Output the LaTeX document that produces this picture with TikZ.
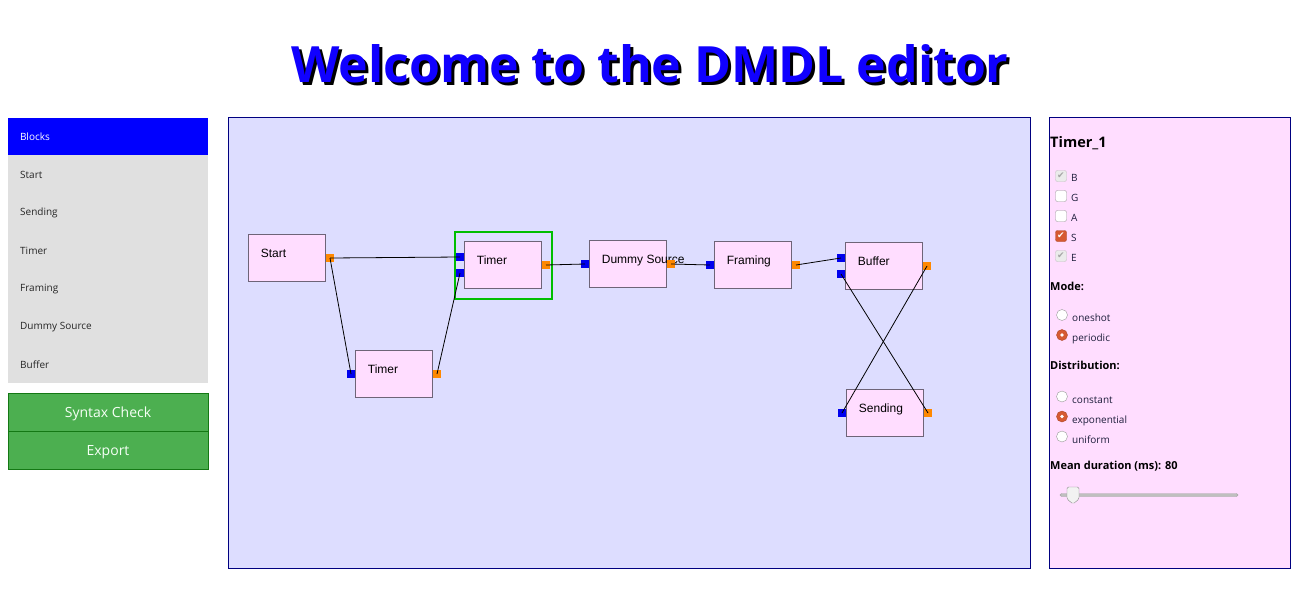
\documentclass[tikz,border=0pt]{standalone}
\usepackage{fontspec}
\setmainfont{Open Sans}
\newfontfamily\blockfont{Liberation Sans}
\newfontfamily\symfont{DejaVu Sans}

\definecolor{titleblue}{RGB}{16,0,255}
\definecolor{canvasbg}{RGB}{221,221,255}
\definecolor{pinkbg}{RGB}{255,221,255}
\definecolor{frameblue}{RGB}{0,0,128}
\definecolor{menugrey}{RGB}{224,224,224}
\definecolor{btngreen}{RGB}{76,175,80}
\definecolor{btnedge}{RGB}{20,120,20}
\definecolor{portblue}{RGB}{0,0,238}
\definecolor{portorange}{RGB}{255,136,0}
\definecolor{selgreen}{RGB}{0,190,0}
\definecolor{blockedge}{RGB}{110,100,120}
\definecolor{tickorange}{RGB}{214,90,50}
\definecolor{paneltext}{RGB}{30,30,60}

\begin{document}
\begin{tikzpicture}[
  x=1pt, y=-1pt,
  titletext/.style={anchor=base, text=titleblue, font=\fontsize{50}{56}\selectfont\bfseries, inner sep=0pt},
  titleshadow/.style={titletext, text=black},
  menubar/.style={fill=blue, text=white, minimum width=200pt, minimum height=38pt,
                  text width=176pt, inner xsep=12pt, align=left, font=\fontsize{10}{12}\selectfont},
  menupanel/.style={fill=menugrey, minimum width=200pt, minimum height=228pt},
  menuentry/.style={anchor=west, inner sep=0pt, text=black!85, font=\fontsize{10}{12}\selectfont},
  greenbtn/.style={draw=btnedge, fill=btngreen, text=green!4, minimum width=200pt, minimum height=38pt,
                   text height=10.6pt, text depth=0pt, font=\fontsize{14}{16}\selectfont},
  panelbox/.style={draw=frameblue, line width=1pt, minimum width=#1, minimum height=451pt},
  block/.style={draw=blockedge, line width=1.6pt, fill=pinkbg, minimum width=77pt, minimum height=47pt},
  blocktext/.style={anchor=west, xshift=13pt, yshift=4pt, inner sep=0pt, text height=9pt, text depth=3pt,
                    font=\blockfont\fontsize{12}{14}\selectfont},
  inport/.style={fill=portblue, minimum size=8pt, inner sep=0pt},
  outport/.style={fill=portorange, minimum size=8pt, inner sep=0pt},
  selframe/.style={draw=selgreen, line width=2pt, minimum width=97pt, minimum height=67pt},
  wire/.style={line width=0.8pt, black},
  heading/.style={anchor=base west, inner sep=0pt, text=black, font=\fontsize{11}{13}\selectfont\bfseries},
  fieldtext/.style={anchor=base west, inner sep=0pt, text=paneltext, font=\fontsize{10}{12}\selectfont},
  tickbox/.style={rounded corners=2pt, minimum size=11pt, inner sep=0pt, font=\symfont\fontsize{9}{9}\selectfont},
  tickdis/.style={tickbox, draw=black!25, fill=black!8, text=black!35},
  tickoff/.style={tickbox, draw=black!40, fill=white},
  tickon/.style={tickbox, draw=tickorange!80!black, fill=tickorange, text=white},
  radiooff/.style={circle, draw=black!40, fill=white, minimum size=11pt, inner sep=0pt},
  radioon/.style={circle, draw=tickorange!80!black, fill=tickorange, minimum size=11pt, inner sep=0pt}
]

\useasboundingbox (0,0) rectangle (1299,616);
\fill[white] (0,0) rectangle (1299,616);

% ---- Title ----
\node[titleshadow] (titleshade) at (653,85) {Welcome to the DMDL editor};
\node[titletext] (title) at (650,82) {Welcome to the DMDL editor};

% ---- Block menu ----
\node[menubar] (blocks) at (108,137) {Blocks};
\node[menupanel] (menubg) at (108,269) {};
\node[menuentry] (mstart) at (20,175) {Start};
\node[menuentry] (msending) at (20,213) {Sending};
\node[menuentry] (mtimer) at (20,251) {Timer};
\node[menuentry] (mframing) at (20,289) {Framing};
\node[menuentry] (mdummy) at (20,327) {Dummy Source};
\node[menuentry] (mbuffer) at (20,365) {Buffer};

\node[greenbtn] (syntax) at (108,412) {Syntax Check};
\node[greenbtn] (export) at (108,450) {Export};

% ---- Canvas and property panel ----
\node[panelbox=802pt, fill=canvasbg] (canvas) at (629,342.5) {};
\node[panelbox=241pt, fill=pinkbg] (props) at (1169.5,342.5) {};

% ---- Blocks ----
\node[selframe] (sel) at (503,265) {};

\node[block] (start) at (287,258) {};
\node[blocktext] (startname) at (start.west) {Start};
\node[block] (timera) at (503,265) {};
\node[blocktext] (timeraname) at (timera.west) {Timer};
\node[block] (timerb) at (394,374) {};
\node[blocktext] (timerbname) at (timerb.west) {Timer};
\node[block] (dummy) at (628,264) {};
\node[blocktext] (dummyname) at (dummy.west) {Dummy Source};
\node[block] (framing) at (753,265) {};
\node[blocktext] (framingname) at (framing.west) {Framing};
\node[block] (buffer) at (884,266) {};
\node[blocktext] (buffername) at (buffer.west) {Buffer};
\node[block] (sending) at (885,413) {};
\node[blocktext] (sendingname) at (sending.west) {Sending};

% ---- Ports ----
\node[outport] (startout) at (330,258) {};
\node[inport] (taina) at (460,257) {};
\node[inport] (tainb) at (460,273) {};
\node[outport] (taout) at (546,265) {};
\node[inport] (tbin) at (351,374) {};
\node[outport] (tbout) at (437,374) {};
\node[inport] (dsin) at (585,264) {};
\node[outport] (dsout) at (671,264) {};
\node[inport] (frin) at (710,265) {};
\node[outport] (frout) at (796,265) {};
\node[inport] (bfina) at (841,258) {};
\node[inport] (bfinb) at (841,274) {};
\node[outport] (bfout) at (927,266) {};
\node[inport] (sdin) at (842,413) {};
\node[outport] (sdout) at (928,413) {};

% ---- Wires ----
\draw[wire] (startout.center) -- (taina.center);
\draw[wire] (startout.center) -- (tbin.center);
\draw[wire] (tbout.center) -- (tainb.center);
\draw[wire] (taout.center) -- (dsin.center);
\draw[wire] (dsout.center) -- (frin.center);
\draw[wire] (frout.center) -- (bfina.center);
\draw[wire] (bfout.center) -- (sdin.center);
\draw[wire] (sdout.center) -- (bfinb.center);

% ---- Properties of Timer_1 ----
\node[heading, font=\fontsize{14.5}{16}\selectfont\bfseries] (propname) at (1050,147) {Timer\_1};

\node[tickdis] (cbb) at (1061,176) {✔};
\node[fieldtext] (lblb) at (1071,181) {B};
\node[tickoff] (cbg) at (1061,196) {};
\node[fieldtext] (lblg) at (1071,201) {G};
\node[tickoff] (cba) at (1061,216) {};
\node[fieldtext] (lbla) at (1071,221) {A};
\node[tickon] (cbs) at (1061,236) {✔};
\node[fieldtext] (lbls) at (1071,241) {S};
\node[tickdis] (cbe) at (1061,256) {✔};
\node[fieldtext] (lble) at (1071,261) {E};

\node[heading] (mode) at (1050,290) {Mode:};
\node[radiooff] (roneshot) at (1062,315) {};
\node[fieldtext] (loneshot) at (1072,321.5) {oneshot};
\node[radioon] (rperiodic) at (1062,335) {};
\fill[white] (rperiodic.center) circle (1.8pt);
\node[fieldtext] (lperiodic) at (1072,341.5) {periodic};

\node[heading] (distr) at (1050,369.5) {Distribution:};
\node[radiooff] (rconstant) at (1062,396.5) {};
\node[fieldtext] (lconstant) at (1072,403) {constant};
\node[radioon] (rexpo) at (1062,416.5) {};
\fill[white] (rexpo.center) circle (1.8pt);
\node[fieldtext] (lexpo) at (1072,423) {exponential};
\node[radiooff] (runiform) at (1062,436.5) {};
\node[fieldtext] (luniform) at (1072,443) {uniform};

\node[heading] (mean) at (1050,469.5) {Mean duration (ms): 80};
\node[rounded corners=1.5pt, fill=black!25, draw=black!35, minimum width=178pt, minimum height=3pt,
      inner sep=0pt] (track) at (1149,495) {};
\draw[black!45, fill=black!5, rounded corners=1.5pt]
  (1067,487) -- (1079,487) -- (1079,499) -- (1073,504) -- (1067,499) -- cycle;

\end{tikzpicture}
\end{document}
